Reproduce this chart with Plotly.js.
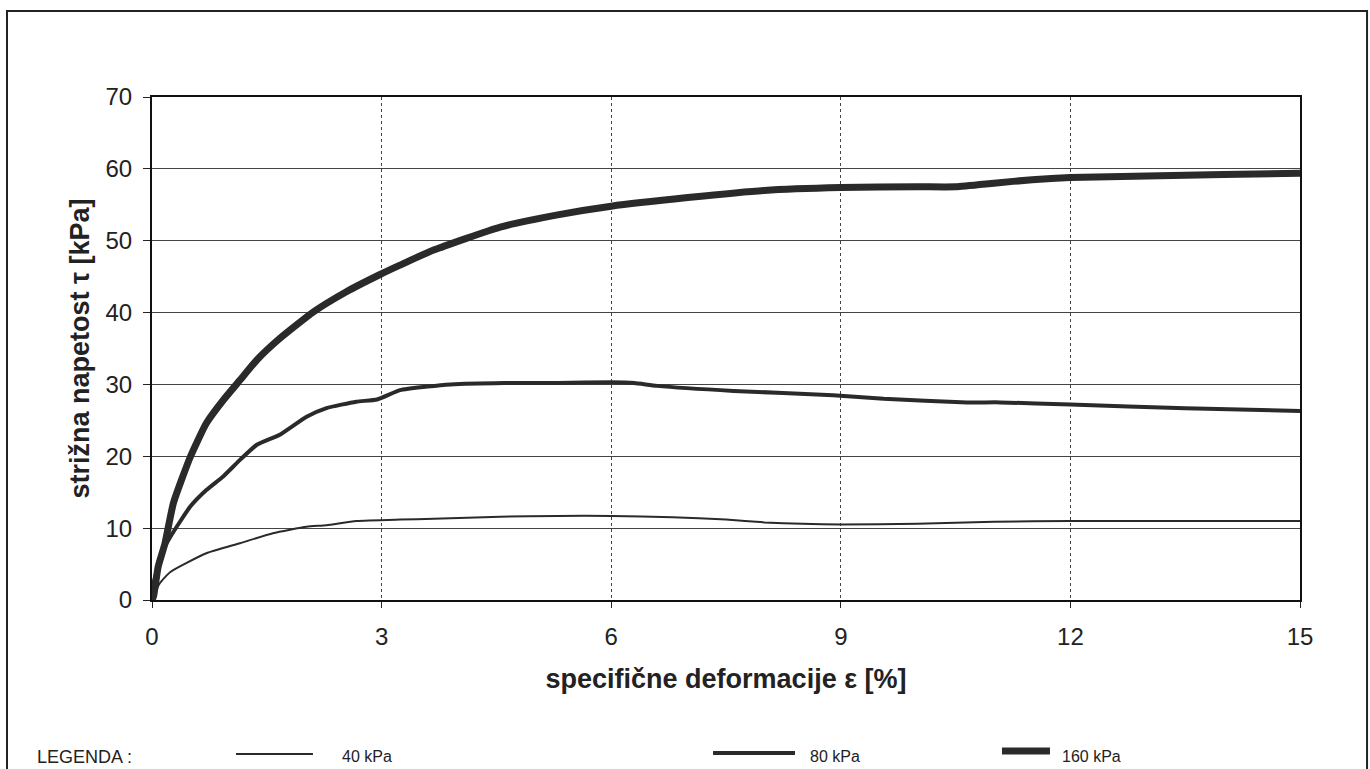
<!DOCTYPE html>
<html>
<head>
<meta charset="utf-8">
<script src="https://cdn.plot.ly/plotly-3.0.1.min.js"></script>
<style>html,body{margin:0;padding:0;background:#fff;}#chart{width:1370px;height:769px;}</style>
</head>
<body>
<div id="chart"></div>
<script>
// strain ε [%] and shear stress τ [kPa]
const x40 = [0, 0.1, 0.24, 0.71, 1.15, 1.58, 2.02, 2.28, 2.67, 3.24, 3.68, 4.55, 5.3, 6.0, 6.8, 7.5, 8.0, 8.5, 9.0, 10.0, 11.0, 12.0, 13.0, 14.0, 15.0];
const y40 = [0, 2.3, 3.9, 6.5, 7.9, 9.3, 10.2, 10.4, 11.0, 11.2, 11.3, 11.6, 11.7, 11.7, 11.5, 11.2, 10.8, 10.6, 10.5, 10.6, 10.9, 11.0, 11.0, 11.0, 11.0];

const x80 = [0, 0.02, 0.15, 0.24, 0.5, 0.71, 0.93, 1.15, 1.37, 1.67, 2.02, 2.28, 2.67, 2.94, 3.24, 3.6, 3.9, 4.6, 5.3, 6.0, 6.3, 6.6, 7.6, 8.9, 9.56, 10.65, 11.08, 12.0, 13.5, 15.0];
const y80 = [0, 2.3, 7.0, 8.8, 13.0, 15.3, 17.2, 19.5, 21.6, 23.0, 25.5, 26.7, 27.6, 27.9, 29.2, 29.7, 30.0, 30.2, 30.2, 30.3, 30.2, 29.8, 29.1, 28.5, 28.0, 27.5, 27.5, 27.2, 26.7, 26.3];

const x160 = [0, 0.02, 0.08, 0.17, 0.28, 0.5, 0.71, 0.93, 1.15, 1.37, 1.67, 2.11, 2.54, 2.98, 3.24, 3.68, 4.55, 5.3, 6.0, 7.0, 8.0, 9.0, 10.0, 10.5, 11.0, 11.5, 12.0, 13.0, 14.0, 15.0];
const y160 = [0, 0.5, 4.6, 7.9, 13.5, 19.9, 24.6, 27.8, 30.6, 33.4, 36.4, 40.1, 42.9, 45.3, 46.6, 48.7, 51.9, 53.6, 54.8, 56.0, 57.0, 57.4, 57.5, 57.5, 58.0, 58.5, 58.8, 59.0, 59.2, 59.4];

const seriesNames = ['40 kPa', '80 kPa', '160 kPa'];
const xTicks = [0, 3, 6, 9, 12, 15];
const yTicks = [0, 10, 20, 30, 40, 50, 60, 70];

const lineColor = '#2a2a2a';
const widths = [2, 4, 7];
const traces = [[x40, y40], [x80, y80], [x160, y160]].map((d, i) => ({
  x: d[0], y: d[1], type: 'scatter', mode: 'lines', name: seriesNames[i],
  line: {color: lineColor, width: widths[i], shape: 'spline', smoothing: 0.5},
  showlegend: false, hoverinfo: 'skip'
}));

// legend drawn in paper coords
const legendLines = [
  {x0: 0.0732, x1: 0.1402, y: -0.3062, w: 2},
  {x0: 0.4887, x1: 0.5601, y: -0.3042, w: 4},
  {x0: 0.7404, x1: 0.7822, y: -0.3002, w: 7}
];
const legendTextX = [0.1638, 0.5714, 0.7909];

const shapes = legendLines.map(l => ({
  type: 'line', xref: 'paper', yref: 'paper', x0: l.x0, x1: l.x1, y0: l.y, y1: l.y,
  line: {color: lineColor, width: l.w}
}));
shapes.push({type: 'rect', xref: 'paper', yref: 'paper', x0: -0.1263, x1: 1.0584, y0: -0.6, y1: 1.171,
  line: {color: '#222', width: 2}, fillcolor: 'rgba(0,0,0,0)'});

const annotations = seriesNames.map((n, i) => ({
  text: n, xref: 'paper', yref: 'paper', x: legendTextX[i], y: -0.312, xanchor: 'left', yanchor: 'middle',
  showarrow: false, font: {family: 'Liberation Sans, Arial, sans-serif', size: 16, color: '#222'}
}));
annotations.push({text: 'LEGENDA :', xref: 'paper', yref: 'paper', x: -0.1019, y: -0.312, xanchor: 'left', yanchor: 'middle',
  showarrow: false, font: {family: 'Liberation Sans, Arial, sans-serif', size: 18, color: '#222'}});

const layout = {
  width: 1370, height: 769,
  margin: {l: 152, r: 70, t: 97, b: 169},
  paper_bgcolor: '#fff', plot_bgcolor: '#fff',
  font: {family: 'Liberation Sans, Arial, sans-serif', color: '#222'},
  xaxis: {
    range: [0, 15], tickvals: xTicks, ticktext: xTicks.map(String),
    showgrid: true, gridcolor: '#444', gridwidth: 1, griddash: 'dot',
    zeroline: false, showline: true, linecolor: '#111', linewidth: 2, mirror: true,
    ticks: 'outside', ticklen: 6, tickcolor: '#222', tickwidth: 1,
    ticklabelstandoff: 8,
    tickfont: {size: 24, color: '#222'},
    title: {text: '<b>specifične deformacije ε [%]</b>', font: {size: 27, color: '#222'}, standoff: 20}
  },
  yaxis: {
    range: [0, 70], tickvals: yTicks, ticktext: yTicks.map(String),
    showgrid: true, gridcolor: '#444', gridwidth: 1,
    zeroline: false, showline: true, linecolor: '#111', linewidth: 2, mirror: true,
    ticks: 'outside', ticklen: 7, tickcolor: '#222', tickwidth: 1,
    ticklabelstandoff: 6,
    tickfont: {size: 24, color: '#222'},
    title: {text: '<b>strižna napetost τ [kPa]</b>', font: {size: 27, color: '#222'}, standoff: 8}
  },
  shapes: shapes,
  annotations: annotations
};

Plotly.newPlot('chart', traces, layout, {displayModeBar: false, staticPlot: true});
</script>
</body>
</html>
